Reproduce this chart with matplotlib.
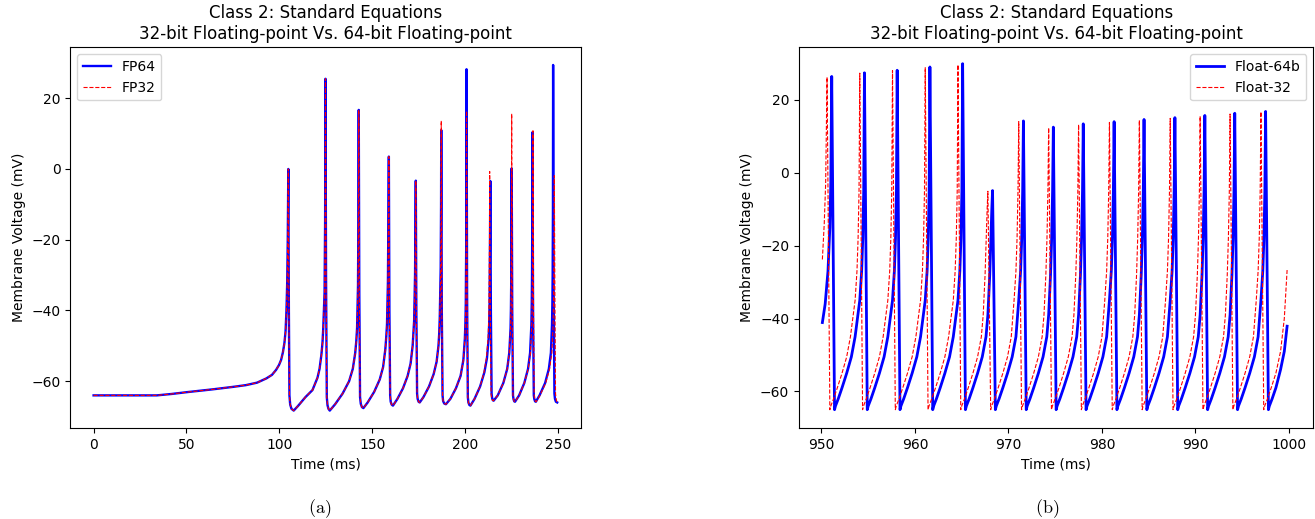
import matplotlib
matplotlib.use('Agg')
import matplotlib.pyplot as plt

plt.rcParams['mathtext.fontset'] = 'cm'

# ---- (a) 0-250 ms, membrane trace vertices (time ms, voltage mV) ----
fp64_t = [0, 34, 42, 50, 64, 75, 82, 88, 93, 96, 98.2, 99.8, 100.9, 101.9, 102.7, 103.3, 103.8, 104.2, 104.5, 104.7, 104.8,
          105.1, 105.4, 105.8, 106.5, 107.7, 110, 114, 117.8, 120.5, 121.6, 122.6, 123.2, 123.6, 124.3, 124.6, 124.8,
          125.1, 125.5, 125.9, 126.4, 127.1, 130, 134, 137.5, 139.5, 140.8, 141.4, 141.8, 142.3, 142.5, 142.7,
          143.0, 143.4, 143.8, 144.4, 145.2, 147.5, 151, 154, 155.8, 157.0, 157.5, 157.9, 158.4, 158.7, 158.9,
          159.2, 159.6, 159.9, 160.4, 161.1, 163.5, 166.5, 169, 170.6, 171.7, 172.1, 172.5, 173.0, 173.2, 173.4,
          173.7, 174.1, 174.4, 174.9, 175.5, 177.5, 180.5, 183, 184.6, 185.6, 186.0, 186.3, 186.8, 187.0, 187.1,
          187.4, 187.8, 188.1, 188.7, 189.6, 192, 195, 197.5, 199.0, 199.8, 200.1, 200.3, 200.55, 200.7,
          201.0, 201.4, 201.7, 202.2, 202.8, 205, 208, 210.3, 211.7, 212.6, 212.9, 213.1, 213.35, 213.5,
          213.8, 214.2, 214.5, 214.9, 215.3, 217.5, 220.5, 222.6, 223.7, 224.4, 224.6, 224.75, 224.9, 225.0,
          225.3, 225.7, 226.0, 226.4, 226.8, 229, 231.8, 233.8, 234.9, 235.6, 235.8, 235.95, 236.1, 236.2,
          236.5, 236.9, 237.2, 237.6, 238.0, 240, 243, 245, 246.1, 246.7, 246.9, 247.05, 247.2, 247.3,
          247.6, 248.0, 248.3, 248.8, 249.5]
fp64_v = [-64.0, -64.0, -63.6, -63.1, -62.3, -61.6, -61.1, -60.4, -59.2, -58.2, -56.8, -55.4, -54.0, -51.8, -49.2, -46, -40, -32, -20, -8, 0.0,
          -40, -64, -66.6, -67.8, -68.3, -67, -64.5, -62.5, -59, -56.5, -52.5, -49, -45, -35, -15, 25.5,
          -30, -64.5, -66.8, -67.8, -68.3, -66.5, -63.5, -60, -56.5, -52, -48.5, -45, -33, -15, 16.7,
          -35, -64.5, -66.4, -67.3, -67.6, -66, -63, -59.5, -56, -51, -47.5, -44, -32, -12, 3.5,
          -40, -64, -65.8, -66.6, -66.9, -65, -62, -58.5, -55, -50, -46.5, -43, -30, -15, -3.3,
          -40, -63.5, -65.0, -65.8, -66.0, -64.5, -61.5, -58, -54.5, -50, -46.5, -42, -28, -10, 11.0,
          -40, -64, -65.6, -66.3, -66.5, -65, -62, -58.5, -54, -48, -43.5, -38, -20, 28.2,
          -35, -64.5, -66.0, -66.7, -66.9, -65, -61.5, -57.5, -53.5, -48, -43.5, -38, -20, -3.4,
          -40, -63.5, -64.8, -65.4, -65.5, -64, -60.5, -56.5, -52, -45, -39.5, -32, -15, 0.2,
          -40, -64, -65.1, -65.7, -65.8, -64, -60.5, -56.5, -52, -44, -38, -30, -12, 10.4,
          -40, -64, -65.1, -65.7, -65.8, -64, -60.5, -56.5, -52, -44, -38, -30, -12, 29.4,
          -35, -63.5, -65.0, -65.8, -66.0]

fp32_t = [0, 34, 42, 50, 64, 75, 82, 88, 93, 96, 98.2, 99.8, 100.9, 101.9, 102.7, 103.3, 103.8, 104.2, 104.5, 104.7, 104.8,
          105.1, 105.4, 105.8, 106.5, 107.7, 110, 114, 117.8, 120.5, 121.6, 122.6, 123.2, 123.6, 124.3, 124.6, 124.8,
          125.1, 125.5, 125.9, 126.4, 127.1, 130, 134, 137.5, 139.5, 140.8, 141.4, 141.8, 142.3, 142.5, 142.7,
          143.0, 143.4, 143.8, 144.4, 145.2, 147.5, 151, 154, 155.8, 157.0, 157.5, 157.9, 158.4, 158.7, 158.9,
          159.2, 159.6, 159.9, 160.4, 161.1, 163.5, 166.5, 169, 170.6, 171.7, 172.1, 172.5, 173.0, 173.2, 173.4,
          173.7, 174.1, 174.4, 174.9, 175.5, 177.5, 180.5, 183, 184.6, 185.6, 186.0, 186.3, 186.8, 187.0, 187.1,
          187.4, 187.8, 188.1, 188.7, 189.6, 192, 195, 197.5, 199.0, 199.8, 200.1, 200.3, 200.55, 200.7,
          201.0, 201.4, 201.7, 202.2, 202.8, 205, 208, 210.1, 211.4, 212.3, 212.6, 212.8, 213.05, 213.15,
          213.5, 213.9, 214.2, 214.7, 215.2, 217.5, 220.5, 222.6, 223.7, 224.4, 224.6, 224.75, 224.9, 225.0,
          225.3, 225.7, 226.0, 226.4, 226.8, 229, 231.8, 233.9, 235.1, 235.8, 236.0, 236.2, 236.35, 236.45,
          236.75, 237.1, 237.4, 237.8, 238.2, 240.2, 243.3, 245.4, 246.6, 247.3, 247.5, 247.65, 247.85, 247.95,
          248.25, 248.6, 248.9, 249.3, 249.6]
fp32_v = [-64.0, -64.0, -63.6, -63.1, -62.3, -61.6, -61.1, -60.4, -59.2, -58.2, -56.8, -55.4, -54.0, -51.8, -49.2, -46, -40, -32, -20, -8, 0.0,
          -40, -64, -66.6, -67.8, -68.3, -67, -64.5, -62.5, -59, -56.5, -52.5, -49, -45, -35, -15, 25.5,
          -30, -64.5, -66.8, -67.8, -68.3, -66.5, -63.5, -60, -56.5, -52, -48.5, -45, -33, -15, 16.7,
          -35, -64.5, -66.4, -67.3, -67.6, -66, -63, -59.5, -56, -51, -47.5, -44, -32, -12, 3.5,
          -40, -64, -65.8, -66.6, -66.9, -65, -62, -58.5, -55, -50, -46.5, -43, -30, -15, -3.3,
          -40, -63.5, -65.0, -65.8, -66.0, -64.5, -61.5, -58, -54.5, -50, -46.5, -42, -28, -10, 13.6,
          -40, -64, -65.6, -66.3, -66.5, -65, -62, -58.5, -54, -48, -43.5, -38, -20, 16.4,
          -35, -64.5, -66.0, -66.7, -66.9, -65, -61.5, -57.5, -53.5, -48, -43.5, -38, -20, -0.7,
          -40, -63.5, -64.8, -65.4, -65.5, -64, -60.5, -56.5, -52, -45, -39.5, -32, -15, 15.6,
          -40, -64, -65.1, -65.7, -65.8, -64, -60.5, -56.5, -52, -44, -38, -30, -12, 10.8,
          -40, -64, -65.1, -65.7, -65.8, -64, -60.5, -56.5, -52, -44, -38, -30, -12, -1.9,
          -35, -63.5, -65.0, -65.8, -66.0]

# ---- (b) 950-1000 ms ----
f64b_t = [950.1, 950.4, 950.7, 950.9, 951.0, 951.1,
          951.4, 951.5, 951.8, 952.2, 952.7, 953.2, 953.6, 954.1, 954.3, 954.42, 954.52, 954.6,
          954.9, 955.0, 955.3, 955.7, 956.2, 956.7, 957.1, 957.6, 957.8, 957.92, 958.02, 958.1,
          958.4, 958.5, 958.8, 959.2, 959.7, 960.2, 960.6, 961.1, 961.3, 961.42, 961.52, 961.6,
          961.9, 962.0, 962.3, 962.7, 963.2, 963.7, 964.1, 964.6, 964.8, 964.92, 965.02, 965.1,
          965.4, 965.5, 965.8, 966.2, 966.7, 967.2, 967.6, 967.8, 968.0, 968.12, 968.22, 968.3,
          968.6, 968.7, 969.0, 969.4, 969.9, 970.4, 970.8, 971.1, 971.3, 971.42, 971.52, 971.6,
          971.9, 972.0, 972.3, 972.7, 973.2, 973.7, 974.1, 974.3, 974.5, 974.62, 974.72, 974.8,
          975.1, 975.2, 975.5, 975.9, 976.4, 976.9, 977.3, 977.5, 977.7, 977.82, 977.92, 978.0,
          978.3, 978.4, 978.7, 979.1, 979.6, 980.1, 980.5, 980.8, 981.0, 981.12, 981.22, 981.3,
          981.6, 981.7, 982.0, 982.4, 982.9, 983.4, 983.8, 984.0, 984.2, 984.32, 984.42, 984.5,
          984.8, 984.9, 985.2, 985.6, 986.1, 986.6, 987.0, 987.3, 987.5, 987.62, 987.72, 987.8,
          988.1, 988.2, 988.5, 988.9, 989.4, 989.9, 990.3, 990.5, 990.7, 990.82, 990.92, 991.0,
          991.3, 991.4, 991.7, 992.1, 992.6, 993.1, 993.5, 993.7, 993.9, 994.02, 994.12, 994.2,
          994.5, 994.6, 994.9, 995.3, 995.8, 996.3, 996.7, 997.0, 997.2, 997.32, 997.42, 997.5,
          997.8, 997.9, 998.2, 998.6, 999.1, 999.5, 999.8]
f64b_v = [-41.1, -36, -27, -15, -3, 26.4,
          -65, -64, -62, -59, -55, -50.5, -45, -35, -27, -18, -5, 27.4,
          -65, -64, -62, -59, -55, -50.5, -45, -35, -27, -18, -5, 28.1,
          -65, -64, -62, -59, -55, -50.5, -45, -35, -27, -18, -5, 29.0,
          -65, -64, -62, -59, -55, -50.5, -45, -35, -27, -18, -5, 29.9,
          -65, -64, -62, -59, -55, -50.5, -45, -39, -28, -18, -10, -4.9,
          -65, -64, -62, -59, -55, -50.5, -45, -35, -27, -18, -5, 14.2,
          -65, -64, -62, -59, -55, -50.5, -45, -39, -28, -18, -5, 12.5,
          -65, -64, -62, -59, -55, -50.5, -45, -39, -28, -18, -5, 13.4,
          -65, -64, -62, -59, -55, -50.5, -45, -35, -27, -18, -5, 14.0,
          -65, -64, -62, -59, -55, -50.5, -45, -39, -28, -18, -5, 14.6,
          -65, -64, -62, -59, -55, -50.5, -45, -35, -27, -18, -5, 15.1,
          -65, -64, -62, -59, -55, -50.5, -45, -39, -28, -18, -5, 15.7,
          -65, -64, -62, -59, -55, -50.5, -45, -39, -28, -18, -5, 16.3,
          -65, -64, -62, -59, -55, -50.5, -45, -35, -27, -18, -5, 16.8,
          -65, -64, -62, -59, -54, -49, -42.1]

f32b_t = [950.1, 950.3, 950.45, 950.6,
          950.9, 951.0, 951.3, 951.7, 952.2, 952.7, 953.1, 953.6, 953.8, 953.92, 954.02, 954.1,
          954.4, 954.5, 954.8, 955.2, 955.7, 956.2, 956.6, 957.1, 957.3, 957.42, 957.52, 957.6,
          957.9, 958.0, 958.3, 958.7, 959.2, 959.7, 960.1, 960.6, 960.8, 960.92, 961.02, 961.1,
          961.4, 961.5, 961.8, 962.2, 962.7, 963.2, 963.6, 964.1, 964.3, 964.42, 964.52, 964.6,
          964.9, 965.0, 965.3, 965.7, 966.2, 966.7, 967.1, 967.3, 967.5, 967.62, 967.72, 967.8,
          968.1, 968.2, 968.5, 968.9, 969.4, 969.9, 970.3, 970.6, 970.8, 970.92, 971.02, 971.1,
          971.4, 971.5, 971.8, 972.2, 972.7, 973.2, 973.6, 973.8, 974.0, 974.12, 974.22, 974.3,
          974.6, 974.7, 975.0, 975.4, 975.9, 976.4, 976.8, 977.0, 977.2, 977.32, 977.42, 977.5,
          977.8, 977.9, 978.2, 978.6, 979.1, 979.6, 980.0, 980.3, 980.5, 980.62, 980.72, 980.8,
          981.1, 981.2, 981.5, 981.9, 982.4, 982.9, 983.3, 983.5, 983.7, 983.82, 983.92, 984.0,
          984.3, 984.4, 984.7, 985.1, 985.6, 986.1, 986.5, 986.8, 987.0, 987.12, 987.22, 987.3,
          987.6, 987.7, 988.0, 988.4, 988.9, 989.4, 989.8, 990.0, 990.2, 990.32, 990.42, 990.5,
          990.8, 990.9, 991.2, 991.6, 992.1, 992.6, 993.0, 993.2, 993.4, 993.52, 993.62, 993.7,
          994.0, 994.1, 994.4, 994.8, 995.3, 995.8, 996.2, 996.5, 996.7, 996.82, 996.92, 997.0,
          997.3, 997.4, 997.7, 998.1, 998.6, 999.1, 999.5, 999.8]
f32b_v = [-23.8, -14, -3, 26.2,
          -65, -64, -62, -59, -55, -50.5, -45, -35, -27, -18, -5, 27.3,
          -65, -64, -62, -59, -55, -50.5, -45, -35, -27, -18, -5, 28.0,
          -65, -64, -62, -59, -55, -50.5, -45, -35, -27, -18, -5, 28.8,
          -65, -64, -62, -59, -55, -50.5, -45, -35, -27, -18, -5, 29.6,
          -65, -64, -62, -59, -55, -50.5, -45, -39, -28, -18, -10, -5.1,
          -65, -64, -62, -59, -55, -50.5, -45, -35, -27, -18, -5, 14.0,
          -65, -64, -62, -59, -55, -50.5, -45, -39, -28, -18, -5, 12.3,
          -65, -64, -62, -59, -55, -50.5, -45, -39, -28, -18, -5, 13.2,
          -65, -64, -62, -59, -55, -50.5, -45, -35, -27, -18, -5, 13.8,
          -65, -64, -62, -59, -55, -50.5, -45, -39, -28, -18, -5, 14.4,
          -65, -64, -62, -59, -55, -50.5, -45, -35, -27, -18, -5, 14.9,
          -65, -64, -62, -59, -55, -50.5, -45, -39, -28, -18, -5, 15.5,
          -65, -64, -62, -59, -55, -50.5, -45, -39, -28, -18, -5, 16.1,
          -65, -64, -62, -59, -55, -50.5, -45, -35, -27, -18, -5, 16.7,
          -65, -64, -62, -59, -55, -49, -40, -26.7]

title = "Class 2: Standard Equations\n32-bit Floating-point Vs. 64-bit Floating-point"

fig = plt.figure(figsize=(13.15, 5.19), dpi=100)
ax1 = fig.add_axes([0.0535, 0.1748, 0.3886, 0.7341])
ax2 = fig.add_axes([0.6076, 0.1748, 0.3911, 0.7341])

ax1.plot(fp64_t, fp64_v, color='blue', lw=1.7, label='FP64')
ax1.plot(fp32_t, fp32_v, color='red', lw=0.8, ls='--', label='FP32')
ax1.set_xlim(-12.5, 262.5)
ax1.set_ylim(-73.3, 34.4)
ax1.set_title(title)
ax1.set_xlabel('Time (ms)')
ax1.set_ylabel('Membrane Voltage (mV)')
ax1.legend(loc='upper left')

ax2.plot(f64b_t, f64b_v, color='blue', lw=2, label='Float-64b')
ax2.plot(f32b_t, f32b_v, color='red', lw=0.8, ls='--', label='Float-32')
ax2.set_xlim(947.6, 1002.6)
ax2.set_ylim(-70.1, 34.4)
ax2.set_title(title)
ax2.set_xlabel('Time (ms)')
ax2.set_ylabel('Membrane Voltage (mV)')
ax2.legend(loc='upper right')

fig.text(0.2433, 0.02, r'$\mathrm{(a)}$', ha='center', va='center', fontsize=13)
fig.text(0.7962, 0.02, r'$\mathrm{(b)}$', ha='center', va='center', fontsize=13)

fig.savefig('out.png', dpi=100)
